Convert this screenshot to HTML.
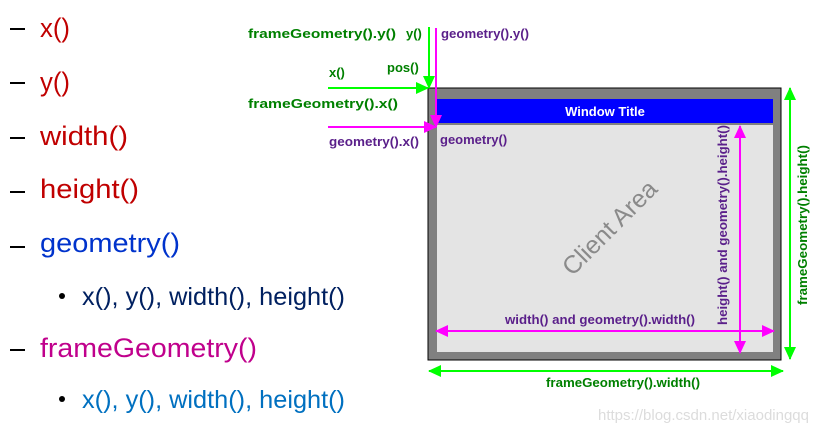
<!DOCTYPE html>
<html><head><meta charset="utf-8"><style>html,body{margin:0;padding:0;background:#fff}svg{display:block}</style></head>
<body>
<svg width="830" height="432" viewBox="0 0 830 432" xmlns="http://www.w3.org/2000/svg" font-family="Liberation Sans, sans-serif">
<defs>
<marker id="ag" markerWidth="13" markerHeight="12" refX="12" refY="6" orient="auto-start-reverse" markerUnits="userSpaceOnUse"><path d="M0,0 L13,6 L0,12 z" fill="#00ff00"/></marker>
<marker id="am" markerWidth="13" markerHeight="12" refX="12" refY="6" orient="auto-start-reverse" markerUnits="userSpaceOnUse"><path d="M0,0 L13,6 L0,12 z" fill="#ff00ff"/></marker>
</defs>
<g font-size="27">
<rect x="10" y="28" width="15" height="2" fill="#000"/>
<text x="40" y="37" fill="#c00000" textLength="30" lengthAdjust="spacingAndGlyphs">x()</text>
<rect x="10" y="82" width="15" height="2" fill="#000"/>
<text x="40" y="91" fill="#c00000" textLength="30" lengthAdjust="spacingAndGlyphs">y()</text>
<rect x="10" y="137" width="15" height="2" fill="#000"/>
<text x="40" y="145" fill="#c00000" textLength="88" lengthAdjust="spacingAndGlyphs">width()</text>
<rect x="10" y="191" width="15" height="2" fill="#000"/>
<text x="40" y="198" fill="#c00000" textLength="99" lengthAdjust="spacingAndGlyphs">height()</text>
<rect x="10" y="246" width="15" height="2" fill="#000"/>
<text x="40" y="252" fill="#0033cc" textLength="140" lengthAdjust="spacingAndGlyphs">geometry()</text>
<rect x="10" y="349" width="15" height="2" fill="#000"/>
<text x="40" y="357" fill="#c0008c" textLength="217" lengthAdjust="spacingAndGlyphs">frameGeometry()</text>
</g>
<g font-size="25">
<circle cx="62" cy="296" r="3" fill="#000"/>
<text x="82" y="305" fill="#002060" textLength="263" lengthAdjust="spacingAndGlyphs">x(), y(), width(), height()</text>
<circle cx="62" cy="399" r="3" fill="#000"/>
<text x="82" y="408" fill="#0070c0" textLength="263" lengthAdjust="spacingAndGlyphs">x(), y(), width(), height()</text>
</g>
<rect x="428" y="88" width="353" height="272" fill="#808080" stroke="#000" stroke-width="1"/>
<rect x="437" y="99" width="336" height="24" fill="#0000ff"/>
<rect x="437" y="125" width="336" height="227" fill="#e4e4e4"/>
<text x="605" y="116" fill="#fff" font-weight="bold" font-size="13" text-anchor="middle">Window Title</text>
<text x="610" y="236" fill="#8a8a8a" font-size="25" text-anchor="middle" transform="rotate(-45 610 228)">Client Area</text>
<g font-weight="bold" font-size="13">
<text x="248" y="38" fill="#008000" textLength="148" lengthAdjust="spacingAndGlyphs">frameGeometry().y()</text>
<text x="406" y="38" fill="#008000">y()</text>
<text x="441" y="38" fill="#5a1f8a" textLength="88" lengthAdjust="spacingAndGlyphs">geometry().y()</text>
<text x="329" y="77" fill="#008000">x()</text>
<text x="387" y="72" fill="#008000">pos()</text>
<text x="248" y="108" fill="#008000" textLength="150" lengthAdjust="spacingAndGlyphs">frameGeometry().x()</text>
<text x="329" y="146" fill="#5a1f8a" textLength="90" lengthAdjust="spacingAndGlyphs">geometry().x()</text>
<text x="440" y="144" fill="#5a1f8a">geometry()</text>
<text x="600" y="324" fill="#5a1f8a" text-anchor="middle" textLength="190" lengthAdjust="spacingAndGlyphs">width() and geometry().width()</text>
<text x="623" y="387" fill="#008000" text-anchor="middle" textLength="154" lengthAdjust="spacingAndGlyphs">frameGeometry().width()</text>
<text x="0" y="0" fill="#5a1f8a" text-anchor="middle" textLength="200" lengthAdjust="spacingAndGlyphs" transform="translate(727 225) rotate(-90)">height() and geometry().height()</text>
<text x="0" y="0" fill="#008000" text-anchor="middle" textLength="160" lengthAdjust="spacingAndGlyphs" transform="translate(807 225) rotate(-90)">frameGeometry().height()</text>
</g>
<g stroke-width="2" fill="none">
<line x1="429" y1="27" x2="429" y2="88" stroke="#00ff00" marker-end="url(#ag)"/>
<line x1="328" y1="88" x2="428" y2="88" stroke="#00ff00" marker-end="url(#ag)"/>
<line x1="436" y1="28" x2="436" y2="127" stroke="#ff00ff" marker-end="url(#am)"/>
<line x1="328" y1="127" x2="436" y2="127" stroke="#ff00ff" marker-end="url(#am)"/>
<line x1="436" y1="331" x2="774" y2="331" stroke="#ff00ff" marker-start="url(#am)" marker-end="url(#am)"/>
<line x1="740" y1="126" x2="740" y2="353" stroke="#ff00ff" marker-start="url(#am)" marker-end="url(#am)"/>
<line x1="429" y1="371" x2="783" y2="371" stroke="#00ff00" marker-start="url(#ag)" marker-end="url(#ag)"/>
<line x1="790" y1="88" x2="790" y2="359" stroke="#00ff00" marker-start="url(#ag)" marker-end="url(#ag)"/>
</g>
<text x="598" y="420" fill="#dcdcdc" font-size="15">https://blog.csdn.net/xiaodingqq</text>
</svg>
</body></html>
